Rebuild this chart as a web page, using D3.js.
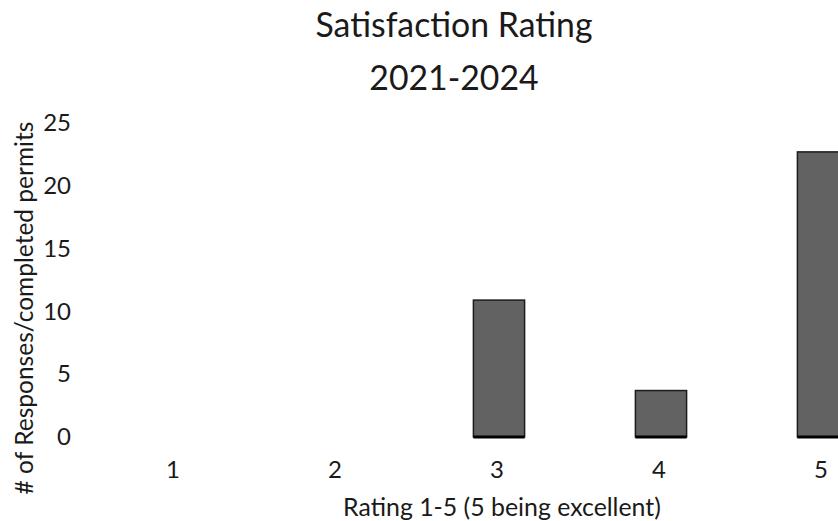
<!DOCTYPE html>
<html>
<head>
<meta charset="utf-8">
<script src="https://cdn.jsdelivr.net/npm/d3@7"></script>
<style>
  html, body { margin: 0; padding: 0; background: #fff; }
  svg { display: block; }
  text { font-family: Lato, "Open Sans", sans-serif; fill: #1a1a1a; }
</style>
</head>
<body>
<svg id="chart" width="838" height="521"></svg>
<script>
// ---- data ----
const categories = ["1", "2", "3", "4", "5"];
const responses = [0, 0, 10.9, 3.7, 22.7];
const yTicks = [0, 5, 10, 15, 20, 25];
const titleLines = ["Satisfaction Rating", "2021-2024"];
const xTitle = "Rating 1-5 (5 being excellent)";
const yTitle = "# of Responses/completed permits";

const svg = d3.select("#chart");

const x = d3.scaleBand()
  .domain(categories)
  .range([94, 904])
  .paddingInner(0.684)
  .paddingOuter(0.342);

const y = d3.scaleLinear().domain([0, 25]).range([437, 123]);

function fitWidth(sel, target) {
  const w = sel.node().getComputedTextLength();
  const fs = parseFloat(sel.attr("font-size"));
  sel.attr("font-size", fs * target / w);
}

// title
const t1 = svg.append("text").attr("x", 454).attr("y", 37)
  .attr("text-anchor", "middle").attr("font-size", 34).text(titleLines[0]);
fitWidth(t1, 277);
svg.append("text").attr("x", 454).attr("y", 90)
  .attr("text-anchor", "middle").attr("font-size", +t1.attr("font-size")).text(titleLines[1]);

// y axis (labels only)
const yAxis = d3.axisLeft(y).tickValues(yTicks).tickSize(0).tickPadding(0);
const gy = svg.append("g").attr("transform", "translate(71,0)").call(yAxis);
gy.select(".domain").remove();
gy.selectAll("text").attr("font-size", 24).attr("font-family", "Lato, sans-serif").attr("fill", "#1a1a1a");

// x axis (labels only)
const xAxis = d3.axisBottom(x).tickSize(0).tickPadding(0);
const gx = svg.append("g").attr("transform", "translate(-2,461)").call(xAxis);
gx.select(".domain").remove();
gx.selectAll("text").attr("font-size", 24).attr("font-family", "Lato, sans-serif").attr("fill", "#1a1a1a");

const barData = categories.map((c, i) => ({ c, v: responses[i] })).filter(d => d.v > 0);

// bars
svg.append("g").selectAll("rect")
  .data(barData)
  .join("rect")
  .attr("x", d => x(d.c))
  .attr("y", d => y(d.v))
  .attr("width", x.bandwidth())
  .attr("height", d => y(0) - y(d.v))
  .attr("fill", "#626262")
  .attr("stroke", "#1c1c1c")
  .attr("stroke-width", 1.5);

// bottom dark edges of bars
svg.append("g").selectAll("line")
  .data(barData)
  .join("line")
  .attr("x1", d => x(d.c))
  .attr("x2", d => x(d.c) + x.bandwidth())
  .attr("y1", y(0)).attr("y2", y(0))
  .attr("stroke", "#000").attr("stroke-width", 3);

// axis titles
const xt = svg.append("text").attr("x", 502).attr("y", 516)
  .attr("text-anchor", "middle").attr("font-size", 24).text(xTitle);
fitWidth(xt, 318);

const yt = svg.append("text")
  .attr("transform", "translate(33,308) rotate(-90)")
  .attr("text-anchor", "middle").attr("font-size", 24).text(yTitle);
fitWidth(yt, 373);
</script>
</body>
</html>
